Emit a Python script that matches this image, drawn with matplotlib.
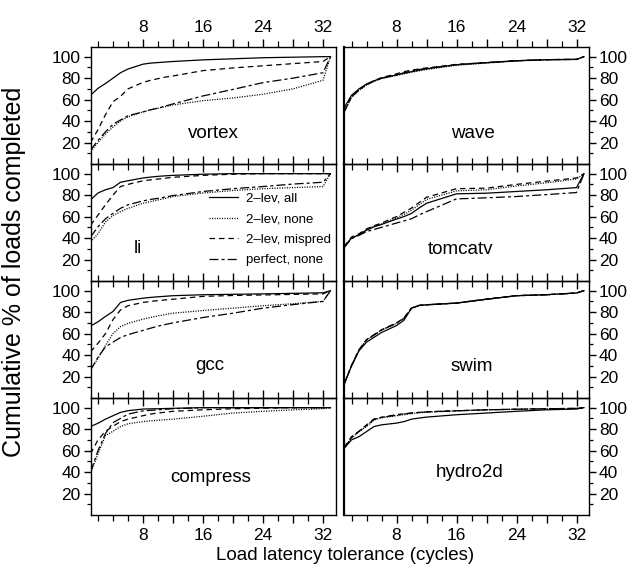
import matplotlib
matplotlib.use("Agg")
import matplotlib.pyplot as plt
from matplotlib.lines import Line2D
from matplotlib.ticker import FixedLocator, FuncFormatter

plt.rcParams['font.family'] = ['Liberation Sans', 'DejaVu Sans']
plt.rcParams['lines.scale_dashes'] = False

X = [1, 2, 3, 4, 5, 6, 8, 9, 10, 11, 12, 16, 20, 24, 28, 32, 33]

series_labels = ["2\u2013lev, all", "2\u2013lev, none", "2\u2013lev, mispred", "perfect, none"]

vortex = {
    "all":     [64, 70.5, 75, 80, 85, 88.5, 93, 94, 94.5, 95, 95.5, 97, 98, 99, 99.5, 100, 100],
    "none":    [11.6, 20, 28, 34.5, 40, 44, 48.6, 50.5, 52, 53.5, 55, 59, 61.5, 65, 70, 78, 100],
    "mispred": [20, 32, 46, 58, 63, 70, 76, 78, 79.5, 81, 82, 87, 89.5, 91.5, 93.5, 95.5, 100],
    "perfect": [13, 22, 30, 37, 41, 45, 48.5, 50.5, 52, 54, 56, 63.4, 69.5, 75.8, 80, 85, 100],
}
li = {
    "all":     [75.5, 82, 85, 87, 92, 93.4, 96, 96.8, 97.5, 98, 98.4, 99.5, 100, 100, 100, 100, 100],
    "none":    [36.4, 44, 55, 61, 64.6, 67.7, 72.4, 74, 75.5, 77, 78.7, 82, 84.3, 86, 87, 88, 100],
    "mispred": [52, 61.4, 71, 80, 88, 90, 93.4, 94.2, 95, 95.8, 96.6, 98.4, 99.5, 100, 100, 100, 100],
    "perfect": [41, 50.5, 58, 63, 67.7, 71, 74.6, 76, 77, 78.3, 79.6, 83.4, 86, 88, 90.3, 92, 100],
}
gcc = {
    "all":     [67, 71, 76, 80.6, 89, 91, 93, 93.7, 94.3, 94.8, 95.3, 96.2, 96.6, 97, 97.5, 98, 100],
    "none":    [26, 37, 49, 60, 66.5, 69.6, 73.4, 75, 76.5, 77.8, 79, 81.5, 83.7, 86, 87.8, 90, 100],
    "mispred": [43, 51, 60, 73, 82, 86, 89, 90, 90.7, 91.4, 92, 94.7, 95.5, 96, 96.5, 97, 100],
    "perfect": [26, 38, 47.6, 52, 56.4, 59, 63, 65, 67, 68.5, 70, 75, 79, 83.7, 87, 90, 100],
}
compress = {
    "all":     [82.4, 85.5, 89.3, 92.5, 95.6, 97.2, 98.7, 98.9, 99, 99.2, 99.4, 100, 100, 100, 100, 100, 100],
    "none":    [38.6, 57, 74, 78, 82.4, 85, 87, 87.7, 88.3, 88.8, 89.3, 92, 95, 96.6, 98, 99, 100],
    "mispred": [57, 70, 78, 82.7, 87, 89.3, 92.5, 94, 95, 95.8, 96.6, 98, 99, 99.5, 100, 100, 100],
    "perfect": [40, 60, 76, 86, 90, 94, 97, 97.5, 98, 98.5, 99, 100, 100, 100, 100, 100, 100],
}
wave = {
    "all":     [52, 64, 70, 74.5, 77.5, 80, 83, 84.5, 86, 87.4, 88.7, 92.5, 94.4, 96.2, 97.2, 97.5, 100],
    "none":    [48.6, 62, 68.5, 73.5, 77, 79.5, 82.5, 84, 85.5, 86.8, 88, 92, 94, 96, 97, 97.3, 100],
    "mispred": [49, 62.7, 69, 74, 77.5, 80.5, 84, 86, 87.5, 88.5, 89.5, 92.8, 94.5, 96.2, 97.2, 97.5, 100],
    "perfect": [48, 62.5, 69, 74, 77.4, 80, 83, 85, 86.5, 88, 89, 92.5, 94.4, 96.2, 97.2, 97.5, 100],
}
tomcatv = {
    "all":     [31.7, 40, 43, 47.3, 50.5, 52.7, 57.7, 60, 63, 68, 72.4, 81.2, 81.8, 83.4, 85, 87, 100],
    "none":    [31, 40, 43.5, 48, 51, 53, 59, 62, 66, 71, 76, 84, 85, 88.5, 91.5, 95, 100],
    "mispred": [32, 41, 44, 48.5, 51.5, 54, 60, 64, 68, 73, 78, 86, 86.5, 90, 93, 96, 100],
    "perfect": [31, 39.5, 42.5, 46, 48, 50, 54, 56, 58, 61.5, 64.6, 76.5, 77.5, 78.7, 80.5, 82.4, 100],
}
swim = {
    "all":     [12.5, 30, 44, 52, 56.5, 61, 67.5, 72.5, 83.7, 86.2, 86.8, 88.4, 92, 95.3, 96.2, 97.8, 100],
    "none":    [12.5, 30, 44.5, 54, 58.6, 63.3, 69.6, 74.3, 83.7, 86.2, 86.8, 88.4, 92, 95.3, 96.2, 97.8, 100],
    "mispred": [12.5, 30.5, 45, 54.5, 59, 63.5, 70, 74.5, 83.9, 86.3, 86.9, 88.5, 92.2, 95.4, 96.3, 97.9, 100],
    "perfect": [12.5, 30, 44.5, 54, 58.6, 63.3, 69.6, 74.3, 83.7, 86.2, 86.8, 88.4, 92, 95.3, 96.2, 97.8, 100],
}
hydro2d = {
    "all":     [62, 70, 73, 77.7, 82.4, 84, 85.6, 87, 89.3, 90.3, 91.2, 93.4, 95, 96.6, 98, 98.7, 100],
    "none":    [62, 71.5, 77.5, 82.5, 88.5, 90.5, 92.5, 93.5, 94.5, 95.2, 95.8, 97, 98, 98.5, 99, 99.3, 100],
    "mispred": [63, 73, 78, 84, 89.5, 91, 93.5, 94.3, 95, 95.6, 96.2, 97.2, 98, 98.6, 99, 99.3, 100],
    "perfect": [62, 72, 78, 83, 89, 91, 93, 94, 95, 95.5, 96, 97, 98, 98.5, 99, 99.3, 100],
}

panels_left = [("vortex", vortex), ("li", li), ("gcc", gcc), ("compress", compress)]
panels_right = [("wave", wave), ("tomcatv", tomcatv), ("swim", swim), ("hydro2d", hydro2d)]
label_pos_left = [(17.4, 28), (7.3, 30), (16.9, 30), (17.0, 35)]
label_pos_right = [(18.2, 28), (16.6, 29), (18.0, 29), (17.7, 40)]

keys = ["all", "none", "mispred", "perfect"]
styles = {
    "all": dict(linestyle="-"),
    "none": dict(linestyle=(0, (0.8, 1.0))),
    "mispred": dict(linestyle=(0, (4.0, 2.8))),
    "perfect": dict(linestyle=(0, (6.5, 2.2, 2.2, 2.2))),
}

W, H = 639, 575
fig = plt.figure(figsize=(W / 100, H / 100), dpi=100)

xmin, xmax = 1, 33.7
top0, ph = 47, 117
colx = [(90.5, 245.25), (344, 245.25)]

tick_fs = 12.5

for c, (panels, lpos) in enumerate([(panels_left, label_pos_left), (panels_right, label_pos_right)]):
    x0, w = colx[c]
    for r, (name, data) in enumerate(panels):
        bottom = 1 - (top0 + ph * (r + 1)) / H
        ax = fig.add_axes([x0 / W, bottom, w / W, ph / H])
        ax.set_facecolor("none")
        for k in keys:
            ax.plot(X, data[k], color="black", lw=0.9, **styles[k])
        ax.set_xlim(xmin, xmax)
        ax.set_ylim(0, 109)
        ax.text(lpos[r][0], lpos[r][1], name, ha="center", va="center", fontsize=13.5)
        for s in ax.spines.values():
            s.set_linewidth(1.0)
        if c == 1:
            ax.spines["left"].set_linewidth(1.6)
        ax.xaxis.set_major_locator(FixedLocator([8, 12, 16, 20, 24, 28, 32]))
        ax.xaxis.set_minor_locator(FixedLocator([2, 4, 6, 10, 14, 18, 22, 26, 30]))
        ax.xaxis.set_major_formatter(FuncFormatter(lambda v, p: "%d" % v if int(v) % 8 == 0 else ""))
        ax.tick_params(axis="x", which="major", direction="out", length=6, width=1.0,
                       top=True, bottom=True, labelsize=tick_fs,
                       labeltop=(r == 0), labelbottom=(r == 3), pad=3)
        ax.tick_params(axis="x", which="minor", direction="out", length=4, width=0.9,
                       top=True, bottom=True)
        ax.yaxis.set_major_locator(FixedLocator([20, 40, 60, 80, 100]))
        ax.yaxis.set_minor_locator(FixedLocator([10, 30, 50, 70, 90]))
        if c == 0:
            ax.tick_params(axis="y", which="both", left=True, right=False,
                           labelleft=True, labelright=False, direction="out")
        else:
            ax.tick_params(axis="y", which="both", left=False, right=True,
                           labelleft=False, labelright=True, direction="out")
        ax.tick_params(axis="y", which="major", length=5, width=1.0, labelsize=tick_fs, pad=2)
        ax.tick_params(axis="y", which="minor", length=3, width=0.9)
        if name == "li":
            handles = [Line2D([], [], color="black", lw=0.9, **styles[k]) for k in keys]
            ax.legend(handles, series_labels, loc="upper left", bbox_to_anchor=(0.485, 0.755),
                      frameon=False, fontsize=9.5, handlelength=2.2, handletextpad=0.6,
                      labelspacing=0.62, borderaxespad=0, borderpad=0)

fig.text(14 / W, 1 - 272 / H, "Cumulative % of loads completed", rotation=90,
         ha="center", va="center", fontsize=18)
fig.text(345 / W, 1 - 556 / H, "Load latency tolerance (cycles)", ha="center", va="center",
         fontsize=13.5)

fig.savefig("out.png", dpi=100)
